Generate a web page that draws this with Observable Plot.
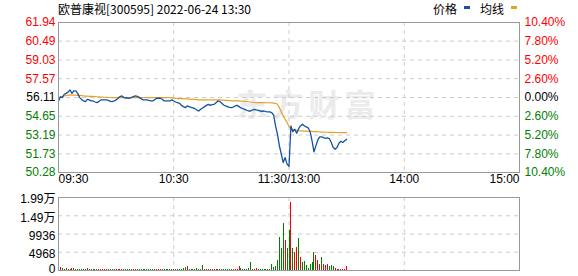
<!DOCTYPE html>
<html><head><meta charset="utf-8">
<script src="https://cdn.jsdelivr.net/npm/d3@7"></script>
<script src="https://cdn.jsdelivr.net/npm/@observablehq/plot@0.6"></script>
<style>
body{margin:0;background:#fff;}
#wrap{position:relative;width:578px;height:276px;overflow:hidden;}
.hd{position:absolute;top:1px;font:12px/16px "Noto Sans CJK SC",sans-serif;color:#000;white-space:nowrap;}
.sw{position:absolute;top:6px;width:6px;height:3px;}
#pp,#vp{position:absolute;left:0;}
#pp{top:0;} #vp{top:190px;}
</style></head>
<body><div id="wrap">
<div id="pp"></div><div id="vp"></div>
<div class="hd" id="title" style="left:58px"></div>
<div class="hd" id="lg1" style="left:433px"></div>
<div class="sw" id="sw1" style="left:464px"></div>
<div class="hd" id="lg2" style="left:480px"></div>
<div class="sw" id="sw2" style="left:511px"></div>
</div>
<script>
const titleText = "欧普康视[300595] 2022-06-24 13:30";
const legendNames = ["价格", "均线"];
const lineColors = ["#1453a3", "#e6a128"];
const prevClose = 56.11;
const priceTicks = [50.28, 51.73, 53.19, 54.65, 56.11, 57.57, 59.03, 60.49, 61.94];
const pctLabels = ["10.40%", "7.80%", "5.20%", "2.60%", "0.00%", "2.60%", "5.20%", "7.80%", "10.40%"];
const timeTicks = [0, 60, 120, 180, 240];
const timeLabels = ["09:30", "10:30", "11:30/13:00", "14:00", "15:00"];
const volTicks = [0, 4968, 9936, 14904, 19872];
const volLabels = ["0", "4968", "9936", "1.49万", "1.99万"];

// minute index 0..150 (09:30 .. 13:30)
const price = [
55.84,56.17,56.10,56.36,56.43,56.54,56.69,56.43,56.62,56.62,
56.43,56.10,55.97,55.84,55.79,55.97,55.92,55.84,55.84,55.76,
55.71,55.79,55.92,55.92,55.92,55.92,55.89,55.81,55.79,55.84,
55.92,56.05,56.18,56.23,56.12,56.07,56.07,56.05,56.12,56.18,
56.23,56.20,56.12,56.02,55.92,55.92,55.92,55.89,55.84,55.84,
55.92,56.05,56.05,56.05,55.97,55.84,55.84,55.84,55.84,55.92,
55.84,55.76,55.71,55.66,55.50,55.40,55.32,55.45,55.40,55.35,
55.30,55.24,55.14,55.06,55.19,55.30,55.40,55.50,55.58,55.50,
55.55,55.58,55.71,55.84,55.79,55.66,55.53,55.45,55.40,55.35,
55.32,55.37,55.45,55.50,55.40,55.30,55.24,55.19,55.12,55.06,
55.06,55.14,55.19,55.14,55.10,55.06,55.04,55.06,55.01,54.99,
54.99,54.93,54.75,53.90,53.25,52.35,51.70,51.05,51.44,50.93,
50.75,53.90,53.45,53.64,53.33,53.69,53.90,54.03,53.90,53.82,
53.75,53.45,52.74,51.88,52.35,52.81,53.05,53.05,52.99,52.94,
52.97,52.92,52.61,52.22,52.09,52.22,52.56,52.71,52.61,52.74,
52.86];
const avgPrice = [
56.11,56.15,56.20,56.24,56.27,56.29,56.30,56.30,56.30,56.29,
56.28,56.27,56.25,56.23,56.22,56.21,56.20,56.20,56.19,56.18,
56.17,56.16,56.15,56.14,56.13,56.12,56.11,56.11,56.10,56.10,
56.10,56.10,56.10,56.10,56.10,56.10,56.10,56.10,56.10,56.10,
56.10,56.10,56.10,56.10,56.10,56.10,56.10,56.10,56.10,56.10,
56.10,56.10,56.10,56.10,56.10,56.10,56.10,56.10,56.09,56.08,
56.06,56.04,56.02,56.02,56.02,56.01,56.00,56.00,55.99,55.98,
55.97,55.96,55.94,55.93,55.92,55.92,55.92,55.92,55.92,55.92,
55.92,55.92,55.92,55.92,55.92,55.91,55.90,55.89,55.88,55.87,
55.86,55.85,55.84,55.84,55.84,55.83,55.82,55.81,55.80,55.78,
55.76,55.74,55.72,55.71,55.71,55.71,55.71,55.71,55.70,55.70,
55.70,55.69,55.68,55.66,55.58,55.32,54.99,54.68,54.42,54.16,
53.85,53.69,53.61,53.58,53.56,53.54,53.52,53.51,53.50,53.49,
53.48,53.47,53.47,53.46,53.46,53.45,53.43,53.42,53.42,53.41,
53.41,53.40,53.40,53.40,53.39,53.39,53.39,53.38,53.38,53.38,
53.38];
const volume = [
0,813,543,270,543,270,362,543,450,270,
270,270,270,270,270,543,270,270,200,270,
270,270,300,300,270,250,250,250,250,250,
250,250,250,250,250,250,250,250,250,250,
250,250,250,250,250,250,250,250,250,250,
250,250,250,250,250,250,250,250,250,250,
250,250,250,250,250,540,904,1085,250,250,
250,250,540,250,250,1356,250,250,250,250,
250,250,250,250,250,250,250,250,250,250,
250,250,250,250,1085,630,250,250,250,630,
2170,360,270,630,300,300,300,300,300,300,
360,1537,904,1085,2712,8859,5967,12926,8136,5876,
10848,18442,5876,4882,6238,8588,3526,2170,2441,1356,
633,1537,2170,4882,4068,2712,1718,3526,1718,1356,
1537,1085,1356,1085,633,362,362,362,362,362,
1085];
const volDir =
"rrgrgrrgrg" + "gggggrgggg" + "grrrrrgggr" + "rrrrggggrr" + "rggggggggg" +
"rrrrgggggr" + "gggggggrgg" + "ggggggrrrg" + "rrrrgggggg" + "grrrrggggg" +
"grrrgggggg" + "rgggggggrg" + "grgrrgrggg" + "ggggrrrgrr" + "rgggrrrrrrr";

const rows = price.map((p, i) => ({i, p, avg: avgPrice[i]}));
const vrows = volume.map((v, i) => ({i, v, c: volDir[i] === "r" ? "#f00000" : "#008000"})).filter(d => d.v > 0);
const tickColor = d => d > prevClose + 1e-9 ? "#ff0000" : d < prevClose - 1e-9 ? "#008000" : "#000000";
const font = "'Liberation Sans', Arial, 'Noto Sans CJK SC', sans-serif";
const grid = {stroke: "#cccccc", strokeDasharray: "4,4", strokeWidth: 1};

document.getElementById("title").textContent = titleText;
document.getElementById("lg1").textContent = legendNames[0];
document.getElementById("lg2").textContent = legendNames[1];
document.getElementById("sw1").style.background = lineColors[0];
document.getElementById("sw2").style.background = lineColors[1];

const tx = timeTicks.map((t, k) => ({t, label: timeLabels[k], k}));
const pp = Plot.plot({
  width: 578, height: 190,
  marginTop: 22, marginBottom: 18, marginLeft: 58, marginRight: 59,
  x: {domain: [0, 240], axis: null},
  y: {domain: [50.28, 61.94], axis: null},
  color: {type: "identity"},
  style: {background: "transparent", fontFamily: font, fontSize: "12px"},
  marks: [
    Plot.text(["东方财富"], {frameAnchor: "top-left", dx: 250, dy: 71, textAnchor: "middle", text: d => d,
      fontSize: 31, fontWeight: "bold", fill: "#ebebeb", fontFamily: "'Noto Sans CJK SC', sans-serif", className: "wm"}),
    Plot.ruleY(priceTicks.slice(1, -1), grid),
    Plot.ruleX(timeTicks.slice(1, -1), grid),
    Plot.line(rows, {x: "i", y: "avg", stroke: lineColors[1], strokeWidth: 1.2}),
    Plot.line(rows, {x: "i", y: "p", stroke: lineColors[0], strokeWidth: 1.3}),
    Plot.frame({stroke: "#999999"}),
    Plot.text(priceTicks, {y: d => d, frameAnchor: "left", dx: -3, textAnchor: "end", text: d => d.toFixed(2), fill: tickColor}),
    Plot.text(priceTicks, {y: d => d, frameAnchor: "right", dx: 5, textAnchor: "start", text: (d, i) => pctLabels[i], fill: tickColor}),
    Plot.text(tx.filter(d => d.k === 0), {x: "t", frameAnchor: "bottom", dy: 10, textAnchor: "start", text: "label", fill: "#000"}),
    Plot.text(tx.filter(d => d.k > 0 && d.k < tx.length - 1), {x: "t", frameAnchor: "bottom", dy: 10, textAnchor: "middle", text: "label", fill: "#000"}),
    Plot.text(tx.filter(d => d.k === tx.length - 1), {x: "t", frameAnchor: "bottom", dy: 10, textAnchor: "end", text: "label", fill: "#000"})
  ]
});
d3.select(pp).selectAll(".wm text").style("letter-spacing", "5px");
document.getElementById("pp").appendChild(pp);

const vt = volTicks.map((t, k) => ({t, label: volLabels[k]}));
const vp = Plot.plot({
  width: 578, height: 86,
  marginTop: 7, marginBottom: 6, marginLeft: 58, marginRight: 59,
  x: {domain: [0, 240], axis: null},
  y: {domain: [0, 19872], axis: null},
  color: {type: "identity"},
  style: {background: "transparent", fontFamily: font, fontSize: "12px"},
  marks: [
    Plot.ruleY(volTicks.slice(1, -1), grid),
    Plot.ruleX(timeTicks.slice(1, -1), grid),
    Plot.ruleX(vrows, {x: "i", y1: 0, y2: "v", stroke: "c", strokeWidth: 1, shapeRendering: "crispEdges"}),
    Plot.frame({stroke: "#999999"}),
    Plot.text(vt.filter(d => d.t > 0), {y: "t", frameAnchor: "left", dx: -3, dy: 2, textAnchor: "end", text: "label", fill: "#000"}),
    Plot.text(vt.filter(d => d.t === 0), {y: "t", frameAnchor: "left", dx: -3, dy: -1, textAnchor: "end", text: "label", fill: "#000"})
  ]
});
document.getElementById("vp").appendChild(vp);
</script>
</body></html>
